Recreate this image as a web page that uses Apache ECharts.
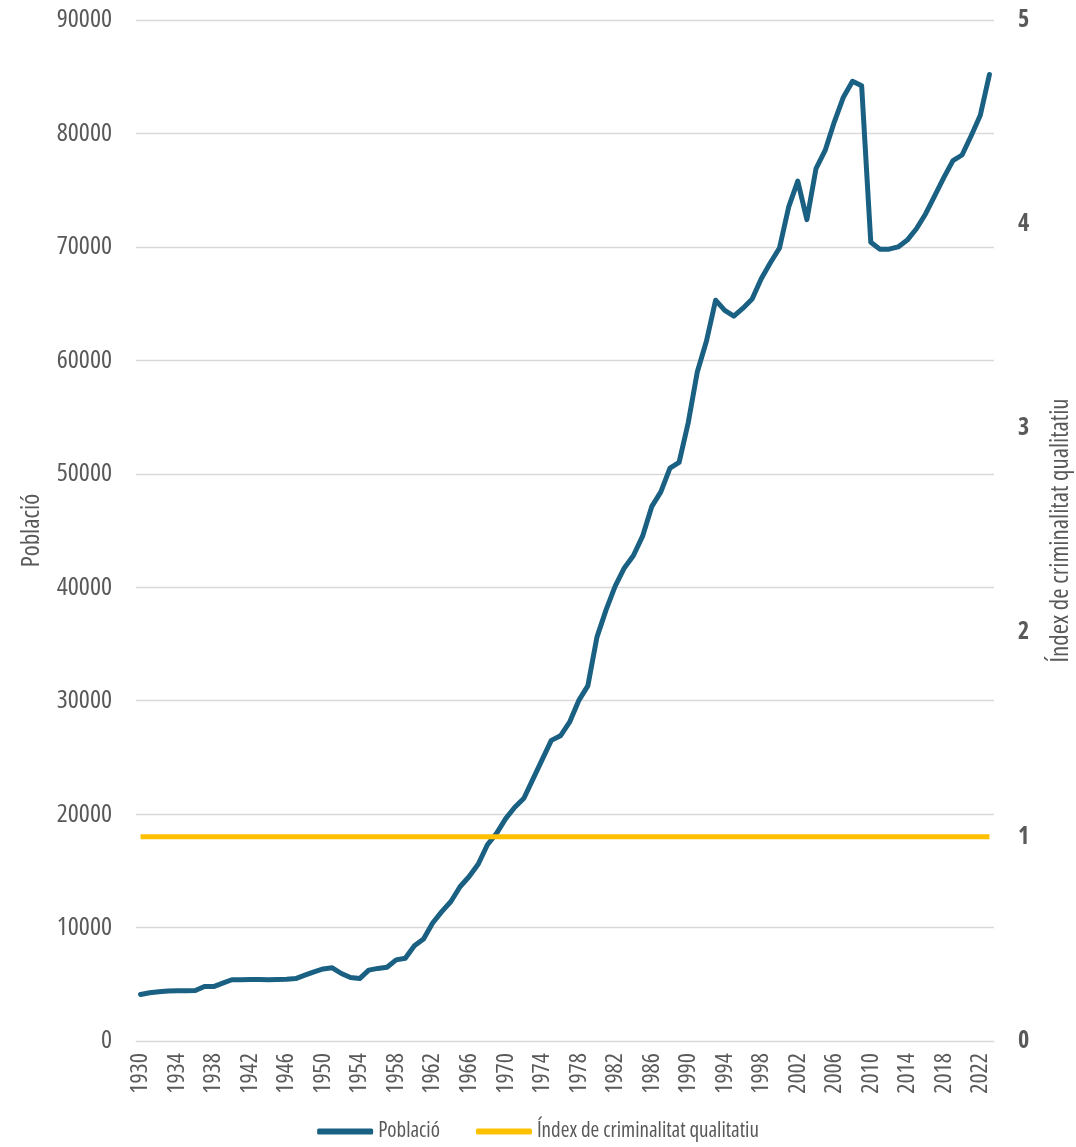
<!DOCTYPE html>
<html><head><meta charset="utf-8">
<script src="https://cdn.jsdelivr.net/npm/echarts@6/dist/echarts.min.js"></script>
<style>html,body{margin:0;padding:0;background:#fff}#c{width:1076px;height:1147px}</style>
</head><body><div id="c"></div>
<script>
const years = [1930,1931,1932,1933,1934,1935,1936,1937,1938,1939,1940,1941,1942,1943,1944,1945,1946,1947,1948,1949,1950,1951,1952,1953,1954,1955,1956,1957,1958,1959,1960,1961,1962,1963,1964,1965,1966,1967,1968,1969,1970,1971,1972,1973,1974,1975,1976,1977,1978,1979,1980,1981,1982,1983,1984,1985,1986,1987,1988,1989,1990,1991,1992,1993,1994,1995,1996,1997,1998,1999,2000,2001,2002,2003,2004,2005,2006,2007,2008,2009,2010,2011,2012,2013,2014,2015,2016,2017,2018,2019,2020,2021,2022,2023];
const poblacio = [4100,4250,4350,4400,4420,4430,4450,4800,4800,5100,5400,5400,5420,5420,5400,5430,5450,5500,5800,6100,6350,6450,5950,5600,5500,6250,6400,6500,7150,7300,8400,9000,10400,11400,12300,13600,14500,15600,17300,18300,19600,20600,21400,23100,24800,26500,26900,28100,30000,31300,35600,38000,40100,41700,42800,44500,47100,48400,50500,51000,54500,59000,61700,65300,64400,63900,64600,65400,67200,68600,69900,73500,75800,72400,76900,78500,81000,83200,84600,84200,70400,69800,69800,70000,70600,71600,72900,74500,76100,77600,78100,79800,81600,85200];
const indexCrim = [1,1,1,1,1,1,1,1,1,1,1,1,1,1,1,1,1,1,1,1,1,1,1,1,1,1,1,1,1,1,1,1,1,1,1,1,1,1,1,1,1,1,1,1,1,1,1,1,1,1,1,1,1,1,1,1,1,1,1,1,1,1,1,1,1,1,1,1,1,1,1,1,1,1,1,1,1,1,1,1,1,1,1,1,1,1,1,1,1,1,1,1,1,1];
const FONT = '"Open Sans"';
const STRETCH = 'ultra-condensed';
const GREY = '#595959';
const BLUE = '#1a6082';
const YELLOW = '#ffc000';
const chart = echarts.init(document.getElementById('c'));

chart.setOption({
  animation: false,
  textStyle: {fontFamily: FONT, fontStyle: STRETCH},
  grid: {left: 136, right: 82, top: 20, bottom: 106, containLabel: false, outerBoundsMode: 'none'},
  legend: {
    bottom: 0, left: 'center', itemWidth: 56, itemHeight: 6, itemGap: 36, icon: 'roundRect',
    textStyle: {fontFamily: FONT, fontStyle: STRETCH, fontSize: 21, color: GREY},
    data: ['Població', 'Índex de criminalitat qualitatiu']
  },
  xAxis: {
    type: 'category', data: years, boundaryGap: true,
    axisLine: {show: true, lineStyle: {color: '#d9d9d9', width: 1}},
    axisTick: {show: false},
    axisLabel: {show: false}
  },
  yAxis: [{
    type: 'value', min: 0, max: 90000, interval: 10000,
    name: 'Població', nameLocation: 'middle', nameGap: 92, nameRotate: 90,
    nameTextStyle: {color: GREY, fontSize: 25, fontFamily: FONT, fontStyle: STRETCH},
    axisLine: {show: false}, axisTick: {show: false},
    axisLabel: {color: GREY, fontSize: 26, fontFamily: FONT, fontStyle: STRETCH, margin: 24, formatter: v => String(v)},
    splitLine: {lineStyle: {color: '#d9d9d9', width: 1.3}}
  }, {
    type: 'value', min: 0, max: 5, interval: 1, position: 'right',
    name: 'Índex de criminalitat qualitatiu', nameLocation: 'middle', nameGap: 54, nameRotate: 90,
    nameTextStyle: {color: GREY, fontSize: 25, fontFamily: FONT, fontStyle: STRETCH},
    axisLine: {show: false}, axisTick: {show: false},
    axisLabel: {color: GREY, fontSize: 24, fontWeight: 'bold', fontFamily: FONT, fontStyle: STRETCH, margin: 24},
    splitLine: {show: false}
  }],
  series: [{
    name: 'Població', type: 'line', data: poblacio, yAxisIndex: 0,
    symbol: 'none', lineStyle: {color: BLUE, width: 5, cap: 'round', join: 'round'},
    itemStyle: {color: BLUE}
  }, {
    name: 'Índex de criminalitat qualitatiu', type: 'line', data: indexCrim, yAxisIndex: 1,
    symbol: 'none', lineStyle: {color: YELLOW, width: 5}, itemStyle: {color: YELLOW}
  }]
});

// Year tick labels (every 4th category), placed through the x axis scale and drawn vertically
try {
  const y0 = chart.convertToPixel({yAxisIndex: 0}, 0);
  const texts = [];
  years.forEach((yr, i) => {
    if (i % 4 !== 0) return;
    const x = chart.convertToPixel({xAxisIndex: 0}, i);
    texts.push({
      type: 'text', x: x, y: y0 + 12, rotation: Math.PI / 2, silent: true,
      style: {
        text: String(yr), fill: GREY, fontSize: 24, fontFamily: FONT, fontStyle: STRETCH,
        align: 'right', verticalAlign: 'middle'
      }
    });
  });
  chart.setOption({graphic: {elements: texts}});
} catch (e) {
  chart.setOption({xAxis: {axisLabel: {show: true, interval: 3, rotate: 90, color: GREY, fontSize: 24, margin: 12}}});
}
</script></body></html>
